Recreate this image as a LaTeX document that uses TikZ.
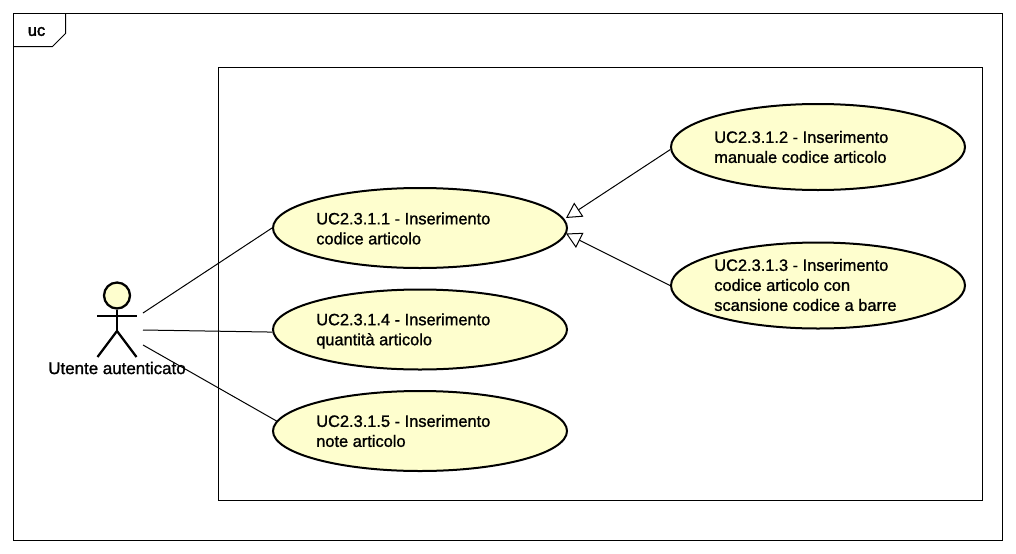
\documentclass[tikz,border=0pt]{standalone}
\usepackage{fontspec}
\setmainfont{Liberation Sans}
\usetikzlibrary{arrows.meta,shapes.geometric}
\definecolor{ucfill}{HTML}{FEFECE}
\newfontfamily\tagfont[FakeBold=2]{Liberation Sans}
\newfontfamily\plainheavy[FakeBold=1.2]{Liberation Sans}
\tikzset{
  frameline/.style={draw=black,line width=0.75pt},
  usecase/.style={ellipse,draw=black,fill=ucfill,line width=1.5pt,inner sep=0pt,minimum width=220.5pt},
  smallcase/.style={usecase,minimum height=60pt},
  bigcase/.style={usecase,minimum height=64.5pt},
  uclabel/.style={anchor=west,align=left,inner sep=0pt,font=\fontsize{12.3pt}{15pt}\plainheavy},
  assoc/.style={draw=black,line width=0.75pt},
  generalize/.style={assoc,-{Triangle[open,length=11.5pt,width=12.5pt,line width=0.75pt]}},
  stick/.style={draw=black,line width=1.7pt}
}
\begin{document}
\begin{tikzpicture}[x=0.75pt,y=-0.75pt]
\useasboundingbox (0,0) rectangle (1016,553);
% frame
\draw[frameline] (13.5,13.5) rectangle (1002.5,540.5);
\draw[frameline] (13.5,46.5) -- (52.5,46.5) -- (65.5,33.5) -- (65.5,13.5);
\node[anchor=center,inner sep=0pt,font=\fontsize{12.3pt}{14pt}\tagfont] (tag) at (36.5,31.5) {uc};
\draw[frameline] (218.5,67.5) rectangle (982.5,500.5);
% use cases
\node[smallcase] (a) at (420,228) {};
\node[smallcase] (d) at (420,329.5) {};
\node[smallcase] (e) at (420,431) {};
\node[bigcase] (b) at (818,147) {};
\node[bigcase] (c) at (818,285.5) {};
\node[uclabel] (la) at (316,228.5) {UC2.3.1.1 - Inserimento\\codice articolo};
\node[uclabel] (ld) at (316,331) {UC2.3.1.4 - Inserimento\\quantità articolo};
\node[uclabel] (le) at (316,431) {UC2.3.1.5 - Inserimento\\note articolo};
\node[uclabel] (lb) at (714,147) {UC2.3.1.2 - Inserimento\\manuale codice articolo};
\node[uclabel] (lc) at (714,285) {UC2.3.1.3 - Inserimento\\codice articolo con\\scansione codice a barre};
% actor
\node[circle,draw=black,fill=ucfill,line width=1.7pt,minimum size=19.5pt,inner sep=0pt] (head) at (117,295.5) {};
\coordinate (hip) at (117,331);
\coordinate (armL) at (97,316);
\coordinate (armR) at (137,316);
\coordinate (footL) at (97.5,357);
\coordinate (footR) at (136.5,357);
\draw[stick] (head.south) -- (hip);
\draw[stick] (armL) -- (armR);
\draw[stick] (footL) -- (hip) -- (footR);
\node[inner sep=0pt,font=\fontsize{12.7pt}{14pt}\plainheavy] (actor) at (117,368) {Utente autenticato};
\coordinate (p1) at (143,313);
\coordinate (p2) at (143,330);
\coordinate (p3) at (143,345);
\draw[assoc] (p1) -- (a.west);
\draw[assoc] (p2) -- (d.181);
\draw[assoc] (p3) -- (e.176);
% generalizations
\coordinate (t1) at (566,218);
\coordinate (t2) at (566,233.5);
\draw[generalize] (b.181) -- (t1);
\draw[generalize] (c.west) -- (t2);
\end{tikzpicture}
\end{document}
